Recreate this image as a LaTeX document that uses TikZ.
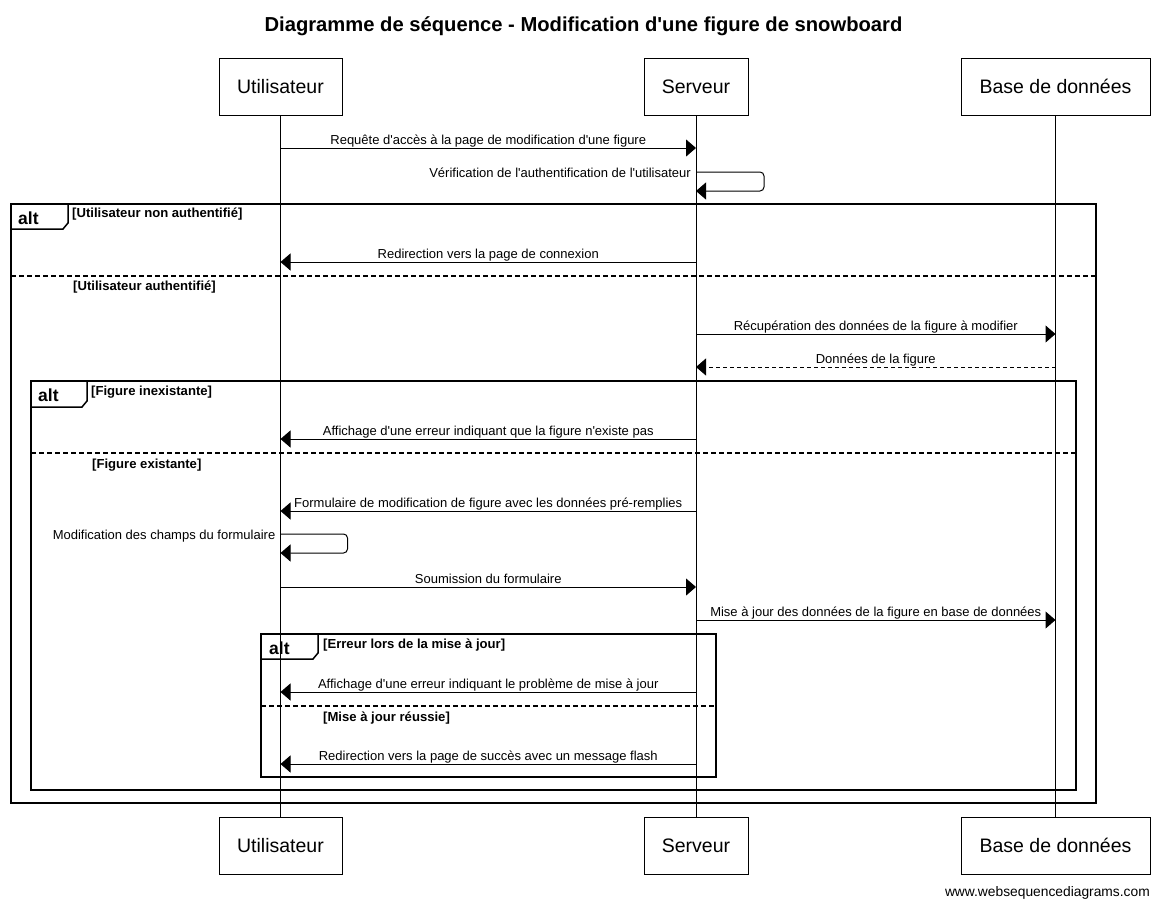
\documentclass[tikz,border=0pt]{standalone}
\usepackage{fontspec}
\setmainfont{Liberation Sans}
\usetikzlibrary{arrows.meta}
\newcommand{\myq}{\textquotesingle}
\begin{document}
\begin{tikzpicture}[x=1pt,y=-1pt,
  actor/.style={draw, line width=1pt, minimum height=57pt, inner sep=0pt, font=\fontsize{19.5}{22}\selectfont},
  life/.style={line width=1pt},
  msg/.style={line width=1pt, -{Triangle[length=10pt,width=17pt]}},
  ret/.style={msg, dash pattern=on 4pt off 3pt},
  lbl/.style={font=\fontsize{13}{15}\selectfont, inner sep=0pt, anchor=base},
  slbl/.style={font=\fontsize{13}{15}\selectfont, inner sep=0pt, anchor=base east},
  frame/.style={line width=1.5pt},
  sep/.style={line width=1.5pt, dash pattern=on 5pt off 3pt},
  altlbl/.style={font=\bfseries\fontsize{17.5}{20}\selectfont, inner sep=0pt, anchor=base west},
  cond/.style={font=\bfseries\fontsize{13.1}{15}\selectfont, inner sep=0pt, anchor=base west},
]
\useasboundingbox (0,0) rectangle (1165,908);

% title
\node[font=\bfseries\fontsize{20.2}{23}\selectfont] (title) at (583.5,26) {Diagramme de séquence - Modification d\myq une figure de snowboard};

% participants
\node[actor, minimum width=123pt] (ut) at (280.5,86.5) {Utilisateur};
\node[actor, minimum width=104pt] (st) at (696,86.5) {Serveur};
\node[actor, minimum width=189pt] (dt) at (1055.5,86.5) {Base de données};
\node[actor, minimum width=123pt] (ub) at (280.5,845.5) {Utilisateur};
\node[actor, minimum width=104pt] (sb) at (696,845.5) {Serveur};
\node[actor, minimum width=189pt] (db) at (1055.5,845.5) {Base de données};

\draw[life] (ut.south) -- (ub.north);
\draw[life] (st.south) -- (sb.north);
\draw[life] (dt.south) -- (db.north);

% frames
\draw[frame] (11,204) rectangle (1096,803);
\draw[frame] (11,229) -- (63,229) -- (68,223) -- (68,204);
\node[altlbl] (alt1) at (18,224) {alt};
\node[cond] (c1a) at (72,217) {[Utilisateur non authentifié]};
\draw[sep] (11,276) -- (1096,276);
\node[cond] (c1b) at (73,290) {[Utilisateur authentifié]};

\draw[frame] (31,381) rectangle (1076,790);
\draw[frame] (31,407) -- (82,407) -- (87,401) -- (87,381);
\node[altlbl] (alt2) at (38,401) {alt};
\node[cond] (c2a) at (91,395) {[Figure inexistante]};
\draw[sep] (31,453) -- (1076,453);
\node[cond] (c2b) at (92,468) {[Figure existante]};

\draw[frame] (261,634) rectangle (716,777);
\draw[frame] (261,659) -- (313,659) -- (318,653) -- (318,634);
\node[altlbl] (alt3) at (269,654) {alt};
\node[cond] (c3a) at (323,648) {[Erreur lors de la mise à jour]};
\draw[sep] (261,706) -- (716,706);
\node[cond] (c3b) at (323,721) {[Mise à jour réussie]};

% message end points
\coordinate (u1) at (280.5,148);  \coordinate (s1) at (696,148);
\coordinate (s2a) at (696,172);   \coordinate (s2b) at (696,191);
\coordinate (s3) at (696,262);    \coordinate (u3) at (280.5,262);
\coordinate (s4) at (696,334);    \coordinate (d4) at (1055.5,334);
\coordinate (d5) at (1055.5,367); \coordinate (s5) at (696,367);
\coordinate (s6) at (696,439);    \coordinate (u6) at (280.5,439);
\coordinate (s7) at (696,511);    \coordinate (u7) at (280.5,511);
\coordinate (u8a) at (280.5,534); \coordinate (u8b) at (280.5,553);
\coordinate (u9) at (280.5,587);  \coordinate (s9) at (696,587);
\coordinate (s10) at (696,620);   \coordinate (d10) at (1055.5,620);
\coordinate (s11) at (696,692);   \coordinate (u11) at (280.5,692);
\coordinate (s12) at (696,764);   \coordinate (u12) at (280.5,764);

% messages
\draw[msg] (u1) -- node[lbl, yshift=4pt] (m1) {Requête d\myq accès à la page de modification d\myq une figure} (s1);
\draw[msg, rounded corners=4pt] (s2a) -- ++(68,0) |- (s2b);
\node[slbl] (m2) at ([xshift=-5pt,yshift=-5pt]s2a) {Vérification de l\myq authentification de l\myq utilisateur};
\draw[msg] (s3) -- node[lbl, yshift=4pt] (m3) {Redirection vers la page de connexion} (u3);
\draw[msg] (s4) -- node[lbl, yshift=4pt] (m4) {Récupération des données de la figure à modifier} (d4);
\draw[ret] (d5) -- node[lbl, yshift=4pt] (m5) {Données de la figure} (s5);
\draw[msg] (s6) -- node[lbl, yshift=4pt] (m6) {Affichage d\myq une erreur indiquant que la figure n\myq existe pas} (u6);
\draw[msg] (s7) -- node[lbl, yshift=4pt] (m7) {Formulaire de modification de figure avec les données pré-remplies} (u7);
\draw[msg, rounded corners=4pt] (u8a) -- ++(67,0) |- (u8b);
\node[slbl] (m8) at ([xshift=-5pt,yshift=-5pt]u8a) {Modification des champs du formulaire};
\draw[msg] (u9) -- node[lbl, yshift=4pt] (m9) {Soumission du formulaire} (s9);
\draw[msg] (s10) -- node[lbl, yshift=4pt] (m10) {Mise à jour des données de la figure en base de données} (d10);
\draw[msg] (s11) -- node[lbl, yshift=4pt] (m11) {Affichage d\myq une erreur indiquant le problème de mise à jour} (u11);
\draw[msg] (s12) -- node[lbl, yshift=4pt] (m12) {Redirection vers la page de succès avec un message flash} (u12);

% footer
\node[font=\fontsize{13.8}{16}\selectfont, anchor=base east, inner sep=0pt] (foot) at (1150,896) {www.websequencediagrams.com};
\end{tikzpicture}
\end{document}
